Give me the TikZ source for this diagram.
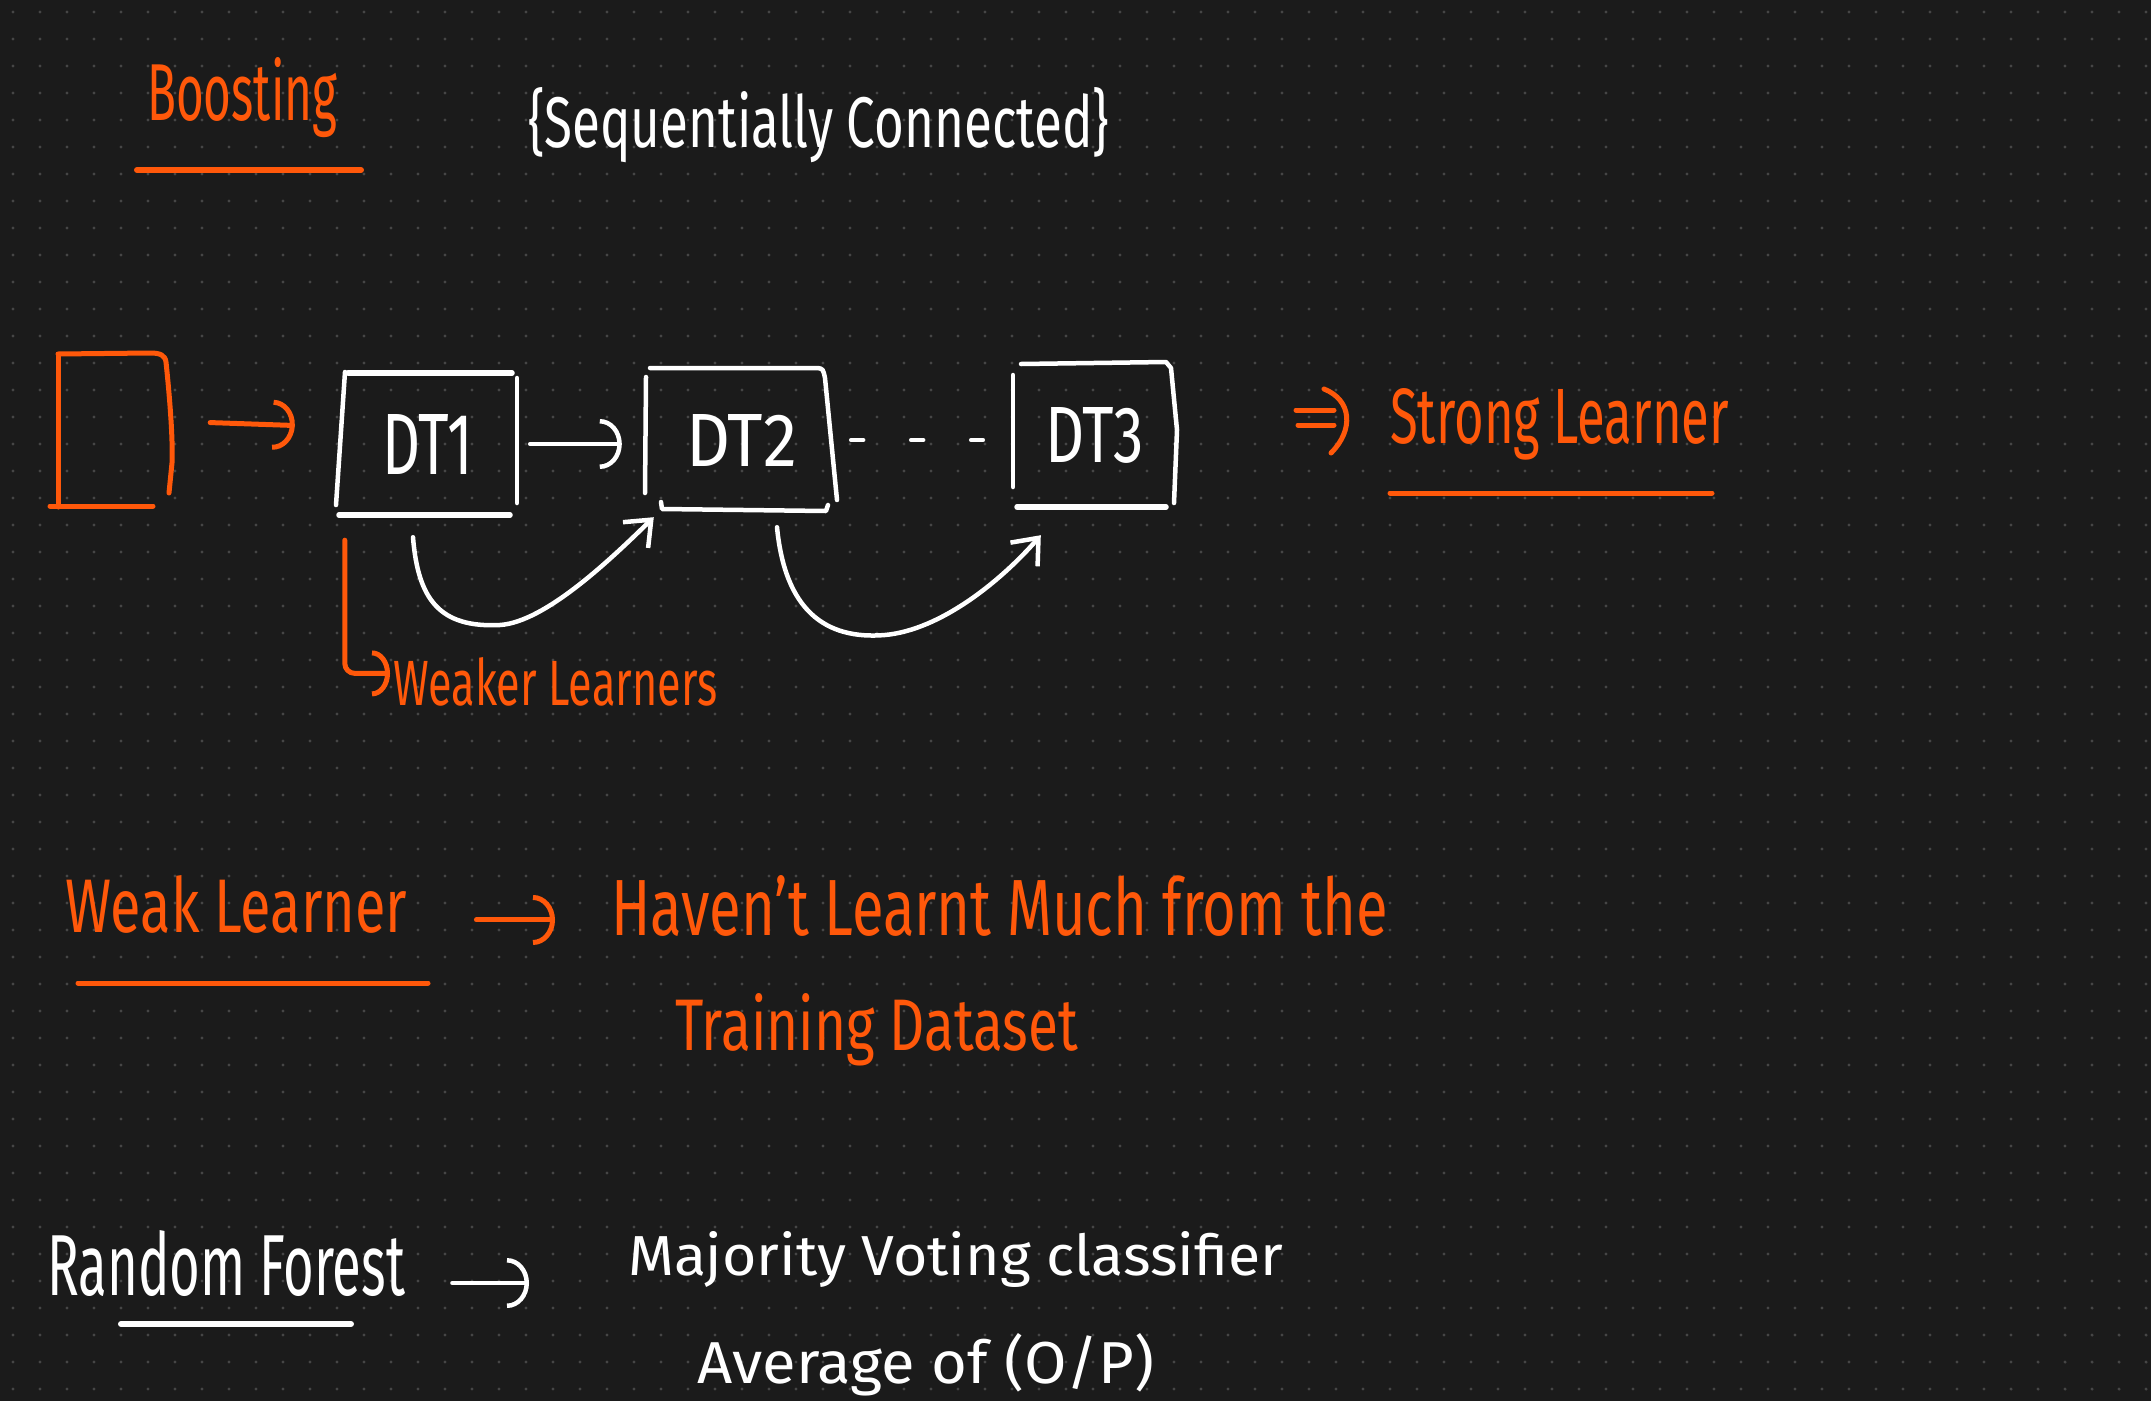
\documentclass[tikz,border=0pt]{standalone}
\usepackage{fontspec}
\setmainfont{Fira Sans}
\usepackage{graphicx}
\usetikzlibrary{arrows.meta}
\definecolor{bg}{RGB}{27,27,27}
\definecolor{dotc}{RGB}{70,70,70}
\definecolor{ink}{RGB}{255,88,10}
\newcommand\hw[3]{\resizebox{#1pt}{#2pt}{\fontsize{40}{48}\selectfont #3}}
\begin{document}
\begin{tikzpicture}[x=1pt,y=-1pt,
  wline/.style={draw=white,line width=4.5pt,line cap=round,line join=round},
  oline/.style={draw=ink,line width=5pt,line cap=round,line join=round},
  otext/.style={text=ink,anchor=base west,inner sep=0pt},
  wtext/.style={text=white,anchor=base west,inner sep=0pt},
  dtbox/.style={inner sep=0pt,text=white},
  arcw/.style={-{Arc Barb[length=22pt,width=50pt]}},
  barbw/.style={-{Straight Barb[length=22pt,width=36pt]}}
]
% background and dot grid
\useasboundingbox (0,0) rectangle (2151,1400);
\fill[bg] (-2,-2) rectangle (2153,1402);
\foreach \i in {0,...,79}{
  \foreach \j in {0,...,51}{
    \fill[dotc] (13+27*\i,12+27*\j) circle[radius=1.7pt];
  }
}

% title
\node[otext] (boost) at (147,120) {\hw{190}{63}{Boosting}};
\draw[oline,line width=6pt] (137,170) -- (361,170);
\node[wtext] (seq) at (528,147) {\hw{581}{60}{\{Sequentially Connected\}}};

% data rectangle
\node[inner sep=0pt,minimum width=107pt,minimum height=152pt] (data) at (111.5,430) {};
\draw[oline] (58,355) -- (58,507);
\draw[oline] (58,354) -- (150,353) .. controls (160,353) and (165,355) .. (166,362)
  .. controls (170,400) and (173,440) .. (172,463) -- (169,493);
\draw[oline] (50,506) -- (153,506);

% DT boxes
\node[dtbox,minimum width=179pt,minimum height=142pt] (DT1) at (427.5,444) {\hw{91}{60}{DT1}};
\node[dtbox,minimum width=191pt,minimum height=144pt] (DT2) at (741.5,440) {\hw{111}{52}{DT2}};
\node[dtbox,minimum width=163pt,minimum height=145pt] (DT3) at (1094.5,435.5) {\hw{99}{55}{DT3}};

% DT1 outline
\draw[wline] (345,372) -- (336,505);
\draw[wline,line width=5.5pt] (348,373) -- (512,373);
\draw[wline] (517,378) -- (517,503);
\draw[wline,line width=5.5pt] (339,515) -- (510,515);
% DT2 outline
\draw[wline] (646,377) -- (645,493);
\draw[wline] (650,368) -- (818,368) .. controls (823,369) .. (825,378) -- (837,500);
\draw[wline] (661,502) -- (662,509) -- (826,511) -- (828,505);
% DT3 outline
\draw[wline] (1013,375) -- (1013,487);
\draw[wline] (1021,364) -- (1166,362) -- (1171,368) -- (1177,430) -- (1174,503);
\draw[wline,line width=5.5pt] (1017,507) -- (1166,507);

% connectors
\draw[oline,arcw,shorten <=45pt,shorten >=43pt] ([yshift=9pt]data.east) -- ([yshift=17pt]DT1.west);
\draw[wline,arcw,shorten <=13pt,shorten >=24pt] (DT1.east) -- (DT1.east -| DT2.west);
\draw[wline,dash pattern=on 12pt off 48pt,shorten <=14pt,shorten >=30pt] (DT2.east) -- (DT2.east -| DT3.west);

\coordinate (c1s) at ([xshift=-14.5pt,yshift=-22pt]DT1.south);
\coordinate (c1e) at ([xshift=8pt,yshift=-5pt]DT2.south west);
\draw[wline,barbw] (c1s) .. controls (418,600) and (440,628) .. (500,625)
  .. controls (545,622) and (610,560) .. (c1e);
\coordinate (c2s) at ([xshift=35.5pt,yshift=-15pt]DT2.south);
\coordinate (c2e) at ([xshift=28pt,yshift=-27pt]DT3.south west);
\draw[wline,barbw] (c2s) .. controls (785,610) and (825,640) .. (885,635)
  .. controls (940,630) and (1000,582) .. (c2e);

% weaker learners
\node[otext] (weaker) at (393,705) {\hw{324}{48}{Weaker Learners}};
\draw[oline,rounded corners=10pt,-{Arc Barb[length=18pt,width=46pt]}]
  ([xshift=7pt,yshift=-25pt]DT1.south west) |- ([xshift=-3pt,yshift=8pt]weaker.west);

% strong learner
\node[otext] (strong) at (1390,443) {\hw{339}{55}{Strong Learner}};
\draw[oline] (1296,410) -- (1334,410);
\draw[oline] (1298,425) -- (1334,425);
\draw[oline] (1324,389) .. controls (1352,400) and (1354,430) .. (1331,453);
\draw[oline] (1390,493) -- (1712,493);

% weak learner
\node[otext] (weak) at (65,932) {\hw{342}{57}{Weak Learner}};
\draw[oline] (78,983) -- (428,983);
\node[otext] (haven) at (611,935) {\hw{777}{60}{Haven't Learnt Much from the}};
\node[otext] (training) at (675,1050) {\hw{403}{57}{Training Dataset}};
\draw[oline,arcw,shorten <=69pt,shorten >=56pt]
  ([yshift=-16pt]weak.east) -- ([yshift=-16pt]weak.east -| haven.west);

% random forest
\node[wtext] (rf) at (47,1295) {\hw{358}{65}{Random Forest}};
\draw[wline,line width=6pt] (121,1324) -- (351,1324);
\node[wtext] (majority) at (628,1275) {\hw{655}{44}{Majority Voting classifier}};
\node[wtext] (average) at (697,1383) {\hw{457}{50}{Average of (O/P)}};
\draw[wline,arcw,shorten <=47pt,shorten >=99pt]
  ([yshift=-20pt]rf.east) -- ([yshift=-20pt]rf.east -| majority.west);
\end{tikzpicture}
\end{document}
